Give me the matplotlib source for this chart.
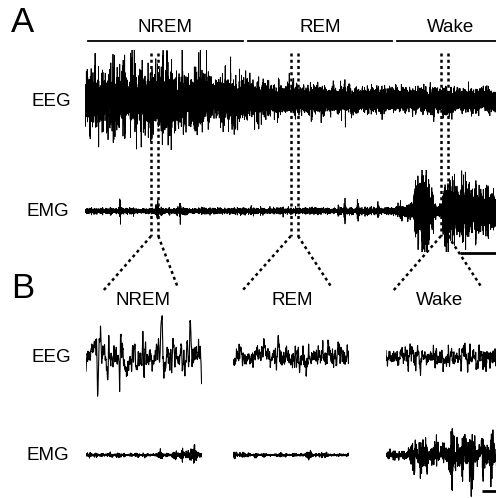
import numpy as np
import matplotlib
matplotlib.use("Agg")
from matplotlib import pyplot as plt
from matplotlib.lines import Line2D

plt.rcParams['font.family'] = ['Liberation Sans', 'DejaVu Sans']

# ---- data -------------------------------------------------------------
FS = 400                      # samples per second
T_TOTAL = 115.0               # length of the overview trace (s)
stages = ['NREM', 'REM', 'Wake']
stage_bounds = [(0.8, 44.2), (45.6, 85.9), (87.3, 117.0)]
window_starts = [18.5, 57.6, 99.6]    # expanded 2 s windows (s)
WIN = 2.0

# EEG envelope: time (s), slow-wave sd, fast sd (uV)
eeg_env_t = [0, 20, 32, 40, 46, 52, 60, 85, 95, 115]
eeg_slow_sd = [9.0, 9.5, 9.0, 7.5, 5.5, 4.2, 3.2, 2.8, 2.6, 2.6]
eeg_fast_sd = [3.5, 3.5, 3.5, 3.6, 3.7, 3.8, 3.8, 3.6, 3.5, 3.5]

# EMG envelope: time (s), sd (uV)
emg_env_t = [0, 84, 88, 91.8, 92.4, 95, 97, 98.5, 99.9, 100.1, 104, 108, 111, 115]
emg_env_sd = [0.7, 0.8, 1.5, 2.5, 8.0, 8.0, 5.5, 1.5, 1.5, 7.5, 7.5, 7.0, 5.5, 4.5]

# muscle twitches during sleep: time (s), sd (uV)
twitch_t = [9.8, 20.3, 26.6, 72.7, 76.4, 82.0]
twitch_sd = [2.0, 1.5, 1.5, 1.5, 2.5, 1.5]

rng = np.random.default_rng(11)


def colored(n, k):
    w = rng.standard_normal(n + k)
    y = np.convolve(w, np.hanning(k + 2)[1:-1], 'valid')[:n]
    return y / y.std()


t = np.arange(int(T_TOTAL * FS)) / FS
n = t.size
slow = colored(n, 14) * (0.45 + 0.8 * np.abs(colored(n, 60)))
eeg = (np.interp(t, eeg_env_t, eeg_slow_sd) * slow
       + np.interp(t, eeg_env_t, eeg_fast_sd) * colored(n, 3))

emg_sd = np.interp(t, emg_env_t, emg_env_sd)
for tc, a in zip(twitch_t, twitch_sd):
    emg_sd = emg_sd + a * np.exp(-((t - tc) / 0.25) ** 2)
burst = 0.45 + 0.8 * np.abs(colored(n, 60))
emg = emg_sd * burst * colored(n, 1)

# ---- layout (pixels) --------------------------------------------------
W, H = 496, 498
fig = plt.figure(figsize=(W / 100, H / 100), dpi=100)


def px_axes(x0, y0, w, h):
    ax = fig.add_axes([x0 / W, 1 - (y0 + h) / H, w / W, h / H])
    ax.set_axis_off()
    return ax


def fig_line(xs, ys, **kw):
    fig.add_artist(Line2D([x / W for x in xs], [1 - y / H for y in ys],
                          transform=fig.transFigure, color='black', **kw))


# overview traces
ax_eeg = px_axes(85, 50, 411, 100)
ax_eeg.plot(t, eeg, color='black', lw=0.6)
ax_eeg.set_xlim(0, T_TOTAL)
ax_eeg.set_ylim(-50, 50)

ax_emg = px_axes(85, 170, 411, 82)
ax_emg.plot(t, emg, color='black', lw=0.6)
ax_emg.set_xlim(0, T_TOTAL)
ax_emg.set_ylim(-41, 41)
ax_emg.plot([105, 115], [-42, -42], color='black', lw=2.0, clip_on=False,
            solid_capstyle='butt')


def t_to_px(tt):
    p = ax_eeg.transData.transform((tt, 0))
    return fig.transFigure.inverted().transform(p)[0] * W


# stage bars and labels
for name, (a, b) in zip(stages, stage_bounds):
    xa, xb = t_to_px(a), t_to_px(b)
    fig_line([xa, xb], [41, 41], lw=1.3)
    fig.text(((xa + xb) / 2) / W, 1 - 27 / H, name, ha='center',
             va='center', fontsize=13.5)

fig.text(11 / W, 1 - 22 / H, 'A', fontsize=25, ha='left', va='center')
fig.text(11 / W, 1 - 288 / H, 'B', fontsize=25, ha='left', va='center')
fig.text(51 / W, 1 - 101 / H, 'EEG', fontsize=13.5, ha='center', va='center')
fig.text(48 / W, 1 - 212 / H, 'EMG', fontsize=13.5, ha='center', va='center')
fig.text(51 / W, 1 - 358 / H, 'EEG', fontsize=13.5, ha='center', va='center')
fig.text(48 / W, 1 - 456 / H, 'EMG', fontsize=13.5, ha='center', va='center')

# expanded windows
b_left = [86, 233, 386]
b_label_x = [143, 292, 440]
conn_ends = [(103, 178), (242, 332), (393, 482)]
dots = dict(lw=1.8, linestyle=(0, (1.2, 1.3)))
for ws, bl, lx, (ca, cb), name in zip(window_starts, b_left, b_label_x,
                                      conn_ends, stages):
    xa, xb = t_to_px(ws), t_to_px(ws + WIN)
    fig_line([xa, xa], [53, 236], **dots)
    fig_line([xb, xb], [53, 236], **dots)
    fig_line([xa, ca], [236, 291], **dots)
    fig_line([xb, cb], [236, 288], **dots)
    fig.text(lx / W, 1 - 300 / H, name, ha='center', va='center',
             fontsize=13.5)

    sel = (t >= ws) & (t <= ws + WIN)
    ax = px_axes(bl, 307, 116, 100)
    ax.plot(t[sel] - ws, eeg[sel], color='black', lw=0.8)
    ax.set_xlim(0, WIN)
    ax.set_ylim(-50, 50)

    ax2 = px_axes(bl, 410, 116, 90)
    ax2.plot(t[sel] - ws, emg[sel], color='black', lw=0.8)
    ax2.set_xlim(0, WIN)
    ax2.set_ylim(-45, 45)
    if name == 'Wake':
        ax2.plot([1.66, 1.92], [-36, -36], color='black', lw=2.0,
                 clip_on=False, solid_capstyle='butt')

fig.savefig('out.png', dpi=100)
